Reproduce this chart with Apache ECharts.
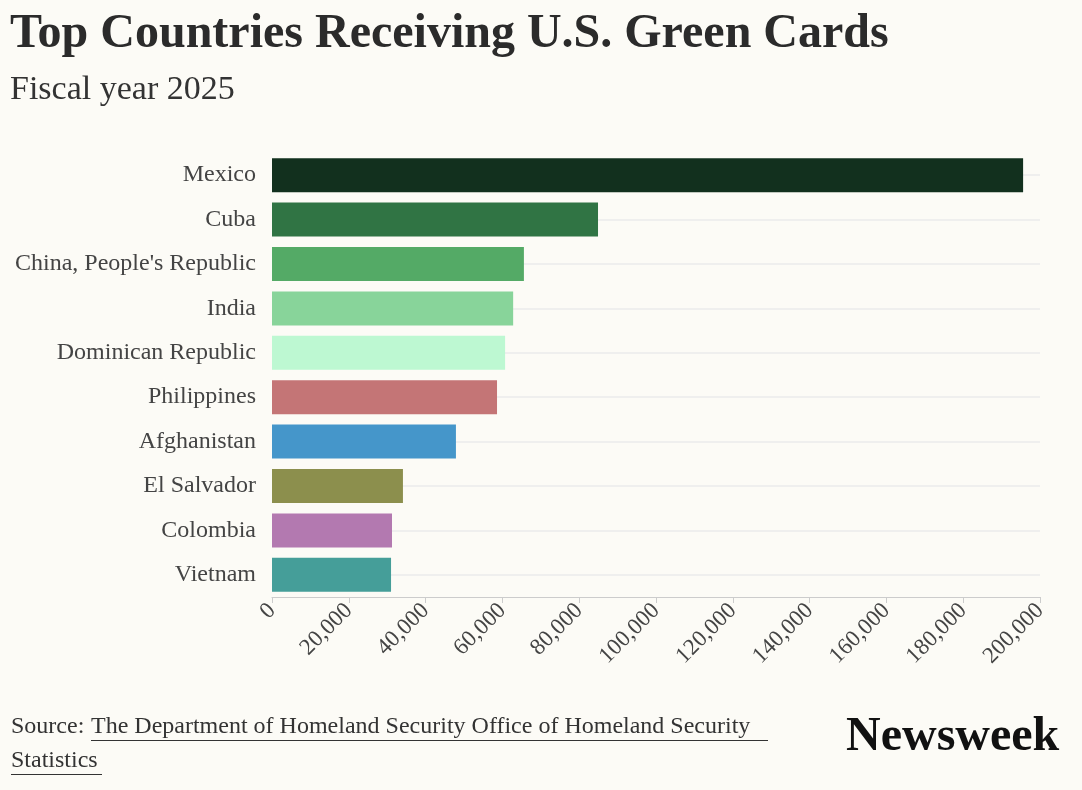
<!DOCTYPE html>
<html><head><meta charset="utf-8">
<script src="https://cdn.jsdelivr.net/npm/echarts@6/dist/echarts.min.js"></script>
<style>html,body{margin:0;padding:0;background:#fcfbf6}#c{width:1082px;height:790px}</style>
</head><body><div id="c"></div>
<script>
const countries = ["Mexico","Cuba","China, People's Republic","India","Dominican Republic","Philippines","Afghanistan","El Salvador","Colombia","Vietnam"];
const values = [195600,84900,65600,62800,60700,58600,47900,34100,31250,31000];
const colors = ["#12301e","#307444","#54aa66","#88d49a","#bdf8d2","#c47576","#4596ca","#8c8f4d","#b379b0","#459e99"];
const chart = echarts.init(document.getElementById('c'));
const serif = "Liberation Serif";
chart.setOption({
  backgroundColor:'#fcfbf6',
  animation:false,
  title:[{text:'Top Countries Receiving U.S. Green Cards',left:5,top:6,textStyle:{fontFamily:serif,fontWeight:'bold',fontSize:48,color:'#2b2b2b'}},
         {text:'Fiscal year 2025',left:5,top:68,textStyle:{fontFamily:serif,fontWeight:'normal',fontSize:34,color:'#333'}}],
  grid:{left:272,right:42,top:153,bottom:193},
  xAxis:{type:'value',min:0,max:200000,interval:20000,
    axisLine:{show:true,lineStyle:{color:'#ccc'}},axisTick:{show:true,length:6,lineStyle:{color:'#ccc'}},
    splitLine:{show:false},
    axisLabel:{rotate:45,fontFamily:serif,fontSize:23,color:'#444',margin:10,
      formatter:v=>v.toLocaleString('en-US')}},
  yAxis:{type:'category',data:countries,inverse:true,
    axisLine:{show:false},axisTick:{show:false},splitLine:{show:false},
    axisLabel:{fontFamily:serif,fontSize:24,color:'#444',margin:16}},
  series:[
    {type:'line',data:[],z:1,silent:true,markLine:{z:1,silent:true,symbol:'none',label:{show:false},
      lineStyle:{color:'#ebebeb',type:'solid',width:1.5},
      data:countries.map(c=>({yAxis:c}))}},
    {type:'bar',z:3,barWidth:34,data:values.map((v,i)=>({value:v,itemStyle:{color:colors[i]}}))}
  ],
  graphic:[
    {type:'text',left:11,top:715,style:{text:'Source: ',font:'24px "Liberation Serif"',fill:'#333'}},
    {type:'text',left:91,top:715,style:{text:'The Department of Homeland Security Office of Homeland Security',font:'24px "Liberation Serif"',fill:'#333'}},
    {type:'rect',shape:{x:91,y:740,width:677,height:1},style:{fill:'#333'}},
    {type:'text',left:11,top:749,style:{text:'Statistics',font:'24px "Liberation Serif"',fill:'#333'}},
    {type:'rect',shape:{x:11,y:774,width:91,height:1},style:{fill:'#333'}},
    {type:'text',left:846,top:714,style:{text:'Newsweek',font:'bold 48px "Liberation Serif"',fill:'#111'}}
  ]
});
</script></body></html>
